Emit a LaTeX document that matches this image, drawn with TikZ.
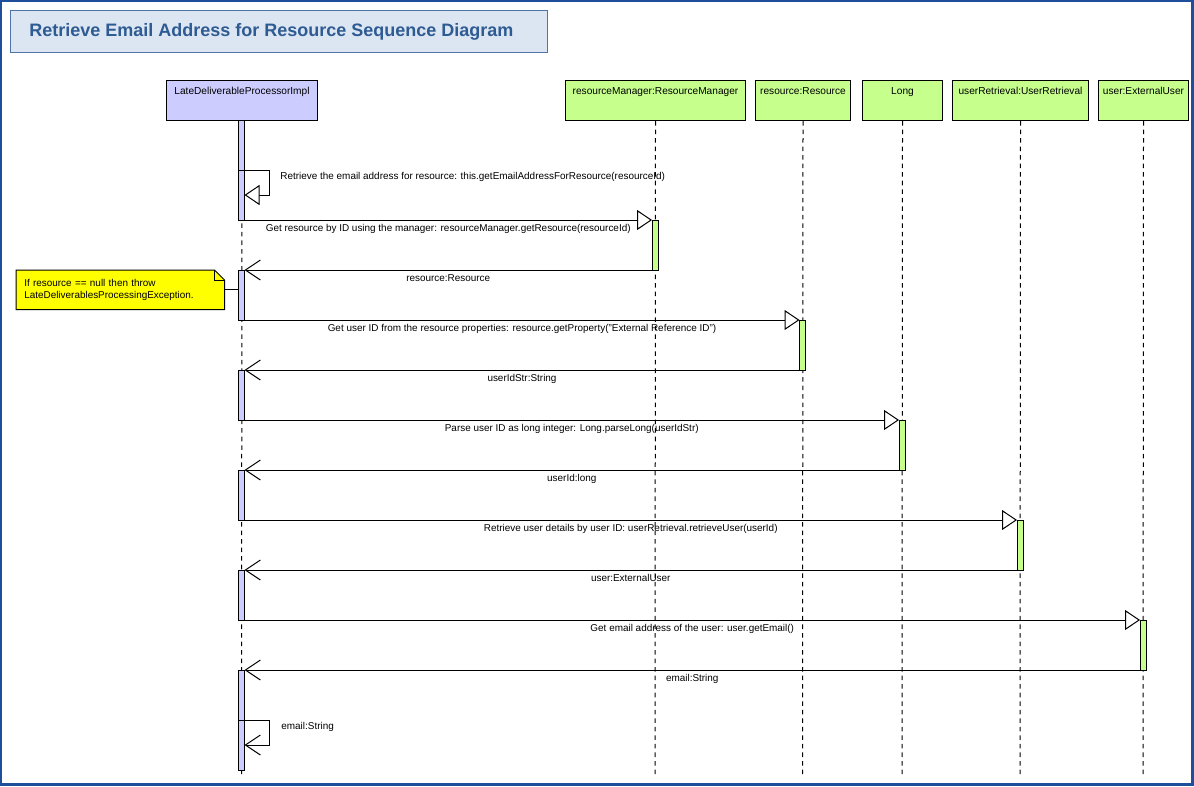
\documentclass[tikz,border=0pt]{standalone}
\usepackage{fontspec}
\setmainfont{Liberation Sans}
\usetikzlibrary{arrows.meta,backgrounds}
\def\px{0.75pt}
\definecolor{frameblue}{HTML}{1F4E9A}
\definecolor{titlefill}{HTML}{DCE6F2}
\definecolor{titleborder}{HTML}{4F74A8}
\definecolor{titletext}{HTML}{2F5B93}
\definecolor{lav}{HTML}{CCCCFF}
\definecolor{lgreen}{HTML}{C6FF8C}
\definecolor{noteyellow}{HTML}{FFFF00}
\begin{document}
\begin{tikzpicture}[x=0.75pt,y=-0.75pt,
  lbl/.style={font=\fontsize{7.45}{9}\selectfont, inner sep=1.6pt},
  msglbl/.style={lbl, midway, below, yshift=-1.5pt},
  boxlbl/.style={font=\fontsize{7.6}{9}\selectfont, inner sep=0pt, anchor=north},
  headbox/.style={draw, line width=0.75pt, minimum height=40*\px, anchor=north west, inner sep=0pt},
  actbar/.style={draw, line width=0.75pt, minimum width=6*\px, inner sep=0pt, outer sep=0pt, anchor=north},
  lifeline/.style={line width=0.75pt, dash pattern=on 3.4pt off 3pt},
  callmsg/.style={line width=0.75pt, -{Triangle[open, length=11.25pt, width=15pt, fill=white]}},
  retmsg/.style={line width=0.75pt, -{Straight Barb[length=11.25pt, width=15pt]}},
  plainline/.style={line width=0.75pt}
]
\useasboundingbox (0,0) rectangle (1194,786);
\draw[frameblue, line width=1.6pt] (1,1) rectangle (1192.5,784.5);

% title
\node[draw=titleborder, fill=titlefill, line width=0.9pt, anchor=north west, inner sep=0pt,
      minimum width=537*\px, minimum height=42*\px] (titlebox) at (10,10) {};
\node[anchor=west, inner sep=0pt, text=titletext, font=\fontsize{13.5}{16}\selectfont\bfseries]
      (title) at ([xshift=19*\px]titlebox.west) {Retrieve Email Address for Resource Sequence Diagram};

% head boxes
\node[headbox, fill=lav, minimum width=151*\px] (ldpi) at (166,80) {};
\node[headbox, fill=lgreen, minimum width=180*\px] (rm) at (565,80) {};
\node[headbox, fill=lgreen, minimum width=95*\px] (res) at (755,80) {};
\node[headbox, fill=lgreen, minimum width=80*\px] (lng) at (862,80) {};
\node[headbox, fill=lgreen, minimum width=136*\px] (ur) at (952,80) {};
\node[headbox, fill=lgreen, minimum width=90*\px] (eu) at (1098,80) {};
\node[boxlbl] (ldpit) at ([yshift=-7*\px]ldpi.north) {LateDeliverableProcessorImpl};
\node[boxlbl] (rmt) at ([yshift=-7*\px]rm.north) {resourceManager:ResourceManager};
\node[boxlbl] (rest) at ([yshift=-7*\px]res.north) {resource:Resource};
\node[boxlbl] (lngt) at ([yshift=-7*\px]lng.north) {Long};
\node[boxlbl] (urt) at ([yshift=-7*\px]ur.north) {userRetrieval:UserRetrieval};
\node[boxlbl] (eut) at ([yshift=-7*\px]eu.north) {user:ExternalUser};

% lifelines
\coordinate (ldpie) at (241.5,775);
\coordinate (rme) at (655,775);
\coordinate (rese) at (802.5,775);
\coordinate (lnge) at (902,775);
\coordinate (ure) at (1020,775);
\coordinate (eue) at (1143,775);
\draw[lifeline] (ldpi.south) -- (ldpie);
\draw[lifeline] (rm.south) -- (rme);
\draw[lifeline] (res.south) -- (rese);
\draw[lifeline] (lng.south) -- (lnge);
\draw[lifeline] (ur.south) -- (ure);
\draw[lifeline] (eu.south) -- (eue);

% activation bars
\node[actbar, fill=lav, minimum height=100*\px] (a1) at (241.5,120) {};
\node[actbar, fill=lav, minimum height=50*\px] (a2) at (241.5,270) {};
\node[actbar, fill=lav, minimum height=50*\px] (a3) at (241.5,370) {};
\node[actbar, fill=lav, minimum height=50*\px] (a4) at (241.5,470) {};
\node[actbar, fill=lav, minimum height=50*\px] (a5) at (241.5,570) {};
\node[actbar, fill=lav, minimum height=100*\px] (a6) at (241.5,670) {};
\node[actbar, fill=lgreen, minimum height=50*\px] (rmb) at (655,220) {};
\node[actbar, fill=lgreen, minimum height=50*\px] (resb) at (802.5,320) {};
\node[actbar, fill=lgreen, minimum height=50*\px] (lngb) at (902,420) {};
\node[actbar, fill=lgreen, minimum height=50*\px] (urb) at (1020,520) {};
\node[actbar, fill=lgreen, minimum height=50*\px] (eub) at (1143,620) {};

% self call
\coordinate (s1a) at (238.5,170);
\coordinate (s1b) at (269,170);
\coordinate (s1c) at (269,195);
\coordinate (s1d) at (244.5,195);
\draw[callmsg] (s1a) -- (s1b) -- (s1c) -- (s1d);
\node[lbl, anchor=west] (s1t) at (278,177) {Retrieve the email address for resource: this.getEmailAddressForResource(resourceId)};

% calls and returns
\draw[callmsg] (a1.south east) -- (rmb.north west)
  node[msglbl] (m2) {Get resource by ID using the manager: resourceManager.getResource(resourceId)};
\draw[retmsg] (rmb.south west) -- (a2.north east)
  node[msglbl] (r2) {resource:Resource};
\draw[callmsg] (a2.south east) -- (resb.north west)
  node[msglbl] (m3) {Get user ID from the resource properties: resource.getProperty("External Reference ID")};
\draw[retmsg] (resb.south west) -- (a3.north east)
  node[msglbl] (r3) {userIdStr:String};
\draw[callmsg] (a3.south east) -- (lngb.north west)
  node[msglbl] (m4) {Parse user ID as long integer: Long.parseLong(userIdStr)};
\draw[retmsg] (lngb.south west) -- (a4.north east)
  node[msglbl] (r4) {userId:long};
\draw[callmsg] (a4.south east) -- (urb.north west)
  node[msglbl] (m5) {Retrieve user details by user ID: userRetrieval.retrieveUser(userId)};
\draw[retmsg] (urb.south west) -- (a5.north east)
  node[msglbl] (r5) {user:ExternalUser};
\draw[callmsg] (a5.south east) -- (eub.north west)
  node[msglbl] (m6) {Get email address of the user: user.getEmail()};
\draw[retmsg] (eub.south west) -- (a6.north east)
  node[msglbl] (r6) {email:String};

% self return
\coordinate (s2a) at (238.5,720);
\coordinate (s2b) at (269,720);
\coordinate (s2c) at (269,745);
\coordinate (s2d) at (244.5,745);
\draw[retmsg] (s2a) -- (s2b) -- (s2c) -- (s2d);
\node[lbl, anchor=west] (s2t) at (279,727) {email:String};

% note
\node[lbl, anchor=north west, align=left, text width=144pt, inner xsep=6pt, inner ysep=0pt,
      minimum height=39*\px] (note) at (16,270)
      {If resource == null then throw\\LateDeliverablesProcessingException.};
\begin{scope}[on background layer]
\draw[plainline, fill=noteyellow] (note.north west) -- ([xshift=-10*\px]note.north east)
  -- ([yshift=-10*\px]note.north east) -- (note.south east) -- (note.south west) -- cycle;
\draw[plainline] ([xshift=-10*\px]note.north east) -- ([xshift=-10*\px,yshift=-10*\px]note.north east)
  -- ([yshift=-10*\px]note.north east);
\end{scope}
\draw[plainline] (note.east) -- (note.east -| a2.west);
\end{tikzpicture}
\end{document}
